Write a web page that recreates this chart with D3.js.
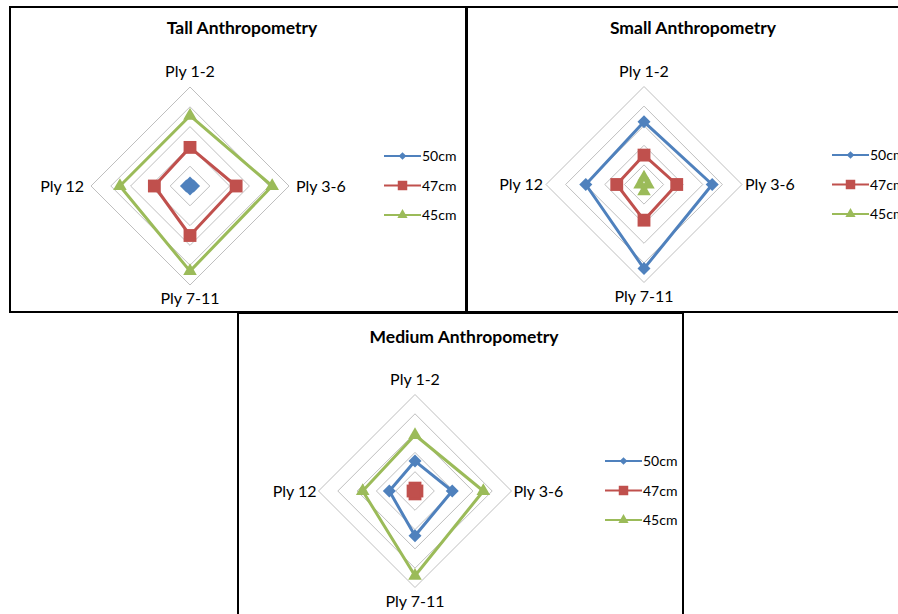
<!DOCTYPE html>
<html>
<head>
<meta charset="utf-8">
<script src="https://cdn.jsdelivr.net/npm/d3@7"></script>
<style>
    body { margin: 0; background: #fff; }
    text { font-family: Lato, "Open Sans", sans-serif; fill: #000; }
</style>
</head>
<body>
<div id="chart"></div>
<script>
var axisLabels = ["Ply 1-2", "Ply 3-6", "Ply 7-11", "Ply 12"];
var seriesNames = ["50cm", "47cm", "45cm"];
var ringTicks = [1, 2, 3, 4, 5];

// values follow the order of axisLabels
var tall50 = [0.15, 0.18, 0.15, 0.18];
var tall47 = [1.95, 2.33, 2.5, 1.8];
var tall45 = [3.55, 4.15, 4.3, 3.54];

var small50 = [3.2, 3.48, 4.29, 2.97];
var small47 = [1.5, 1.67, 1.82, 1.39];
var small45 = [0.35, 0.2, 0.35, 0.2];

var medium50 = [1.55, 1.93, 2.32, 1.33];
var medium47 = [0.15, 0.1, 0.15, 0.1];
var medium45 = [2.9, 3.54, 4.39, 2.71];

var colours = ["#4f81bd", "#c0504d", "#9bbb59"];

var width = 898;
var height = 614;

var svg = d3.select("#chart").append("svg")
    .attr("width", width)
    .attr("height", height);

svg.append("rect").attr("width", width).attr("height", height).attr("fill", "#fff");

var markerPath = function(i, big) {
    if (i == 0) {
        // excel diamond = square turned 45deg
        return d3.symbol().type(d3.symbolSquare).size(big ? 85 : 30)();
    } else if (i == 1) {
        return d3.symbol().type(d3.symbolSquare).size(big ? 165 : 90)();
    }
    return d3.symbol().type(d3.symbolTriangle).size(big ? 80 : 45)();
};

var drawRadar = function(cfg) {
    var g = svg.append("g");

    g.append("rect")
        .attr("x", cfg.box[0]).attr("y", cfg.box[1])
        .attr("width", cfg.box[2]).attr("height", cfg.box[3])
        .attr("fill", "none")
        .attr("stroke", "#000")
        .attr("stroke-width", 2);

    g.append("text")
        .attr("x", cfg.titleX).attr("y", cfg.titleY)
        .attr("text-anchor", "middle")
        .attr("font-size", "17.5px")
        .attr("font-weight", "bold")
        .text(cfg.title);

    var r = d3.scaleLinear().domain([0, 5]).range([0, cfg.radius]);
    var angle = d3.scaleLinear().domain([0, axisLabels.length]).range([0, 2 * Math.PI]);

    var line = d3.lineRadial()
        .angle(function(d, i) { return angle(i); })
        .radius(function(d) { return r(d); })
        .curve(d3.curveLinearClosed);

    var plot = g.append("g")
        .attr("transform", "translate(" + cfg.cx + "," + cfg.cy + ")");

    // grid rings
    plot.selectAll("path.ring")
        .data(ringTicks)
        .enter().append("path")
        .attr("class", "ring")
        .attr("d", function(t) { return line(axisLabels.map(function() { return t; })); })
        .attr("fill", "none")
        .attr("stroke", "#bfbfbf")
        .attr("stroke-width", 1);

    // category labels
    plot.selectAll("text.axis")
        .data(axisLabels)
        .enter().append("text")
        .attr("class", "axis")
        .attr("font-size", "16px")
        .attr("x", function(d, i) {
            if (i == 1) return r(5) + cfg.sideGap;
            if (i == 3) return -r(5) - cfg.sideGap;
            return 0;
        })
        .attr("y", function(d, i) {
            if (i == 0) return -r(5) - 10;
            if (i == 2) return r(5) + 19;
            return 5.5;
        })
        .attr("text-anchor", function(d, i) {
            if (i == 1) return "start";
            if (i == 3) return "end";
            return "middle";
        })
        .text(function(d) { return d; });

    var seriesGroup = plot.selectAll("g.series")
        .data(cfg.series)
        .enter().append("g")
        .attr("class", "series");

    seriesGroup.append("path")
        .attr("d", function(d) { return line(d); })
        .attr("fill", "none")
        .attr("stroke", function(d, i) { return colours[i]; })
        .attr("stroke-width", 3)
        .attr("stroke-linejoin", "round");

    seriesGroup.each(function(values, si) {
        d3.select(this).selectAll("path.marker")
            .data(values)
            .enter().append("path")
            .attr("class", "marker")
            .attr("d", markerPath(si, true))
            .attr("fill", colours[si])
            .attr("transform", function(d, i) {
                var a = angle(i);
                var x = r(d) * Math.sin(a);
                var y = -r(d) * Math.cos(a);
                return "translate(" + x + "," + y + ")" + (si == 0 ? " rotate(45)" : "");
            });
    });

    // legend
    var legend = g.selectAll("g.legend")
        .data(seriesNames)
        .enter().append("g")
        .attr("class", "legend")
        .attr("transform", function(d, i) {
            return "translate(" + cfg.legendX + "," + (cfg.legendY + i * 29.5) + ")";
        });

    legend.append("line")
        .attr("x1", 0).attr("x2", 37)
        .attr("stroke", function(d, i) { return colours[i]; })
        .attr("stroke-width", 2);

    legend.append("path")
        .attr("d", function(d, i) { return markerPath(i, false); })
        .attr("fill", function(d, i) { return colours[i]; })
        .attr("transform", function(d, i) { return "translate(18.5,0)" + (i == 0 ? " rotate(45)" : ""); });

    legend.append("text")
        .attr("x", 38).attr("y", 5)
        .attr("font-size", "14px")
        .text(function(d) { return d; });
};

drawRadar({
    title: "Tall Anthropometry", titleX: 242, titleY: 34,
    cx: 190, cy: 186, radius: 99, sideGap: 7,
    legendX: 384, legendY: 156,
    box: [10, 7, 456, 305],
    series: [tall50, tall47, tall45]
});

drawRadar({
    title: "Small Anthropometry", titleX: 693, titleY: 34,
    cx: 644, cy: 184.5, radius: 98, sideGap: 3,
    legendX: 832, legendY: 155,
    box: [467, 7, 440, 305],
    series: [small50, small47, small45]
});

drawRadar({
    title: "Medium Anthropometry", titleX: 464, titleY: 343,
    cx: 415, cy: 491, radius: 96.5, sideGap: 2,
    legendX: 605, legendY: 461,
    box: [238, 313, 445, 310],
    series: [medium50, medium47, medium45]
});
</script>
</body>
</html>
